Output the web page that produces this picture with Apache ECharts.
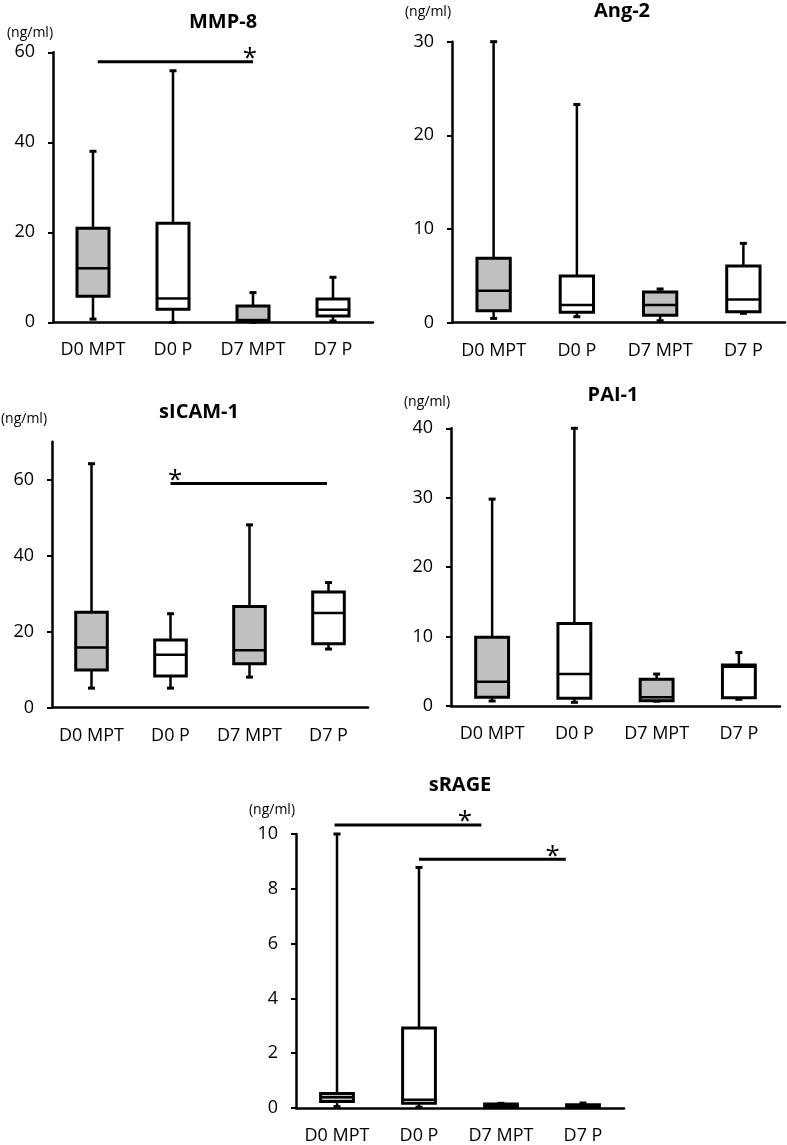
<!DOCTYPE html>
<html>
<head>
<meta charset="utf-8">
<script src="https://cdn.jsdelivr.net/npm/echarts@6/dist/echarts.min.js"></script>
<style>
  html, body { margin: 0; padding: 0; background: #fff; }
  #chart { width: 787px; height: 1145px; }
</style>
</head>
<body>
<div id="chart"></div>
<script>
// ---- Data (each row: [min, Q1, median, Q3, max]) ----
const categories = ['D0 MPT', 'D0 P', 'D7 MPT', 'D7 P'];

const mmp8 = [
  [0.7, 5.8, 12.0, 20.9, 38.0],
  [0.0, 2.9, 5.3, 22.0, 55.9],
  [0.0, 0.3, 0.5, 3.6, 6.6],
  [0.3, 1.4, 2.8, 5.2, 10.0]
];
const ang2 = [
  [0.46, 1.28, 3.42, 6.87, 30.0],
  [0.64, 1.11, 1.89, 4.98, 23.3],
  [0.21, 0.79, 1.89, 3.28, 3.6],
  [1.0, 1.18, 2.49, 6.05, 8.47]
];
const sicam1 = [
  [5.1, 9.9, 15.8, 25.1, 64.2],
  [5.1, 8.3, 13.9, 17.8, 24.7],
  [8.0, 11.5, 15.1, 26.6, 48.1],
  [15.4, 16.8, 24.9, 30.4, 32.9]
];
const pai1 = [
  [0.72, 1.25, 3.5, 9.9, 29.8],
  [0.53, 1.1, 4.6, 11.9, 40.0],
  [0.7, 0.76, 1.25, 3.85, 4.6],
  [0.97, 1.2, 5.66, 5.9, 7.7]
];
const srage = [
  [0.05, 0.24, 0.39, 0.53, 10.0],
  [0.03, 0.17, 0.30, 2.92, 8.78],
  [0.02, 0.03, 0.10, 0.15, 0.17],
  [0.02, 0.03, 0.07, 0.12, 0.18]
];

// Significance bars: [start category, end category, value level, star category]
const mmp8Sig = [[0.06, 2.0, 57.9, 1.96]];
const sicam1Sig = [[1.0, 2.98, 59.0, 1.06]];
const srageSig = [[-0.03, 1.76, 10.33, 1.56], [1.0, 2.79, 9.08, 2.63]];

// Y-axis ticks
const mmp8Ticks = [0, 20, 40, 60];
const ang2Ticks = [0, 10, 20, 30];
const sicam1Ticks = [0, 20, 40, 60];
const pai1Ticks = [0, 10, 20, 30, 40];
const srageTicks = [0, 2, 4, 6, 8, 10];

const unit = '(ng/ml)';

// ---- Layout ----
const FONT = '"Open Sans", "Noto Sans", sans-serif';
const panels = [
  { title: 'MMP-8', data: mmp8, sig: mmp8Sig, ticks: mmp8Ticks, max: 60,
    grid: { left: 53, top: 52.3, width: 320, height: 270 }, titlePos: [223, 22], unitPos: [30, 33] },
  { title: 'Ang-2', data: ang2, sig: [], ticks: ang2Ticks, max: 30,
    grid: { left: 452, top: 41.7, width: 333, height: 281 }, titlePos: [622, 11], unitPos: [428, 12] },
  { title: 'sICAM-1', data: sicam1, sig: sicam1Sig, ticks: sicam1Ticks, max: 70,
    grid: { left: 52, top: 441.7, width: 316, height: 265.8 }, titlePos: [199, 412], unitPos: [24, 419] },
  { title: 'PAI-1', data: pai1, sig: [], ticks: pai1Ticks, max: 40,
    grid: { left: 451, top: 428.3, width: 329, height: 277.7 }, titlePos: [613, 395], unitPos: [427, 402] },
  { title: 'sRAGE', data: srage, sig: srageSig, ticks: srageTicks, max: 10,
    grid: { left: 296, top: 834, width: 328, height: 276.7 }, titlePos: [460, 785], unitPos: [272, 810] }
];

function renderBox(params, api) {
  const ci = api.value(0);
  const vMin = api.value(1), q1 = api.value(2), med = api.value(3), q3 = api.value(4), vMax = api.value(5);
  const w = api.size([1, 0])[0] * 0.4;
  const cap = 3.5;
  const pMin = api.coord([ci, vMin]);
  const pQ1 = api.coord([ci, q1]);
  const pMed = api.coord([ci, med]);
  const pQ3 = api.coord([ci, q3]);
  const pMax = api.coord([ci, vMax]);
  const cx = pMin[0];
  const fill = categories[ci].indexOf('MPT') >= 0 ? '#c0c0c0' : '#ffffff';
  const stroke = { stroke: '#000', lineWidth: 2.5 };
  return {
    type: 'group',
    children: [
      { type: 'line', shape: { x1: cx, y1: pQ3[1], x2: cx, y2: pMax[1] }, style: stroke },
      { type: 'line', shape: { x1: cx - cap, y1: pMax[1], x2: cx + cap, y2: pMax[1] }, style: { stroke: '#000', lineWidth: 3 } },
      { type: 'line', shape: { x1: cx, y1: pQ1[1], x2: cx, y2: pMin[1] }, style: stroke },
      { type: 'line', shape: { x1: cx - cap, y1: pMin[1], x2: cx + cap, y2: pMin[1] }, style: { stroke: '#000', lineWidth: 3 } },
      { type: 'rect', shape: { x: cx - w / 2, y: pQ3[1], width: w, height: pQ1[1] - pQ3[1] },
        style: { fill: fill, stroke: '#000', lineWidth: 3 } },
      { type: 'line', shape: { x1: cx - w / 2, y1: pMed[1], x2: cx + w / 2, y2: pMed[1] }, style: { stroke: '#000', lineWidth: 2.5 } }
    ]
  };
}

function renderSig(params, api) {
  const p1 = api.coord([api.value(0), api.value(2)]);
  const p2 = api.coord([api.value(1), api.value(2)]);
  const ps = api.coord([api.value(3), api.value(2)]);
  return {
    type: 'group',
    children: [
      { type: 'line', shape: { x1: p1[0], y1: p1[1], x2: p2[0], y2: p2[1] }, style: { stroke: '#000', lineWidth: 3 } },
      { type: 'text', x: ps[0], y: ps[1] - 3,
        style: { text: '*', font: '26px ' + FONT, fill: '#000', align: 'center', verticalAlign: 'middle' } }
    ]
  };
}

const grids = [], xAxes = [], yAxes = [], series = [], graphics = [];
panels.forEach((p, i) => {
  grids.push(Object.assign({ containLabel: false }, p.grid));
  xAxes.push({
    type: 'category', gridIndex: i, data: categories, boundaryGap: true,
    axisLine: { show: true, onZero: false, lineStyle: { color: '#000', width: 2.5 } },
    axisTick: { show: false },
    axisLabel: { color: '#000', fontFamily: FONT, fontSize: 18, margin: 19, interval: 0 },
    splitLine: { show: false }
  });
  xAxes.push({
    type: 'value', gridIndex: i, min: -0.5, max: 3.5, show: false,
    axisLine: { onZero: false }, splitLine: { show: false }
  });
  yAxes.push({
    type: 'value', gridIndex: i, min: 0, max: p.max,
    axisLine: { show: true, onZero: false, lineStyle: { color: '#000', width: 2.5 } },
    axisTick: { show: true, inside: false, length: 5, lineStyle: { color: '#000', width: 2 }, customValues: p.ticks },
    axisLabel: { color: '#000', fontFamily: FONT, fontSize: 18, margin: 18, customValues: p.ticks },
    splitLine: { show: false }
  });
  series.push({
    type: 'custom', name: p.title, xAxisIndex: 2 * i + 1, yAxisIndex: i,
    renderItem: renderBox,
    encode: { x: 0, y: [1, 2, 3, 4, 5] },
    data: p.data.map((d, k) => [k].concat(d)),
    clip: false, silent: true
  });
  if (p.sig.length) {
    series.push({
      type: 'custom', name: p.title + ' sig', xAxisIndex: 2 * i + 1, yAxisIndex: i,
      renderItem: renderSig,
      encode: { x: [0, 1, 3], y: 2 },
      data: p.sig,
      clip: false, silent: true
    });
  }
  graphics.push({ type: 'text', x: p.titlePos[0], y: p.titlePos[1],
    style: { text: p.title, font: 'bold 20px ' + FONT, fill: '#000', align: 'center', verticalAlign: 'middle' } });
  graphics.push({ type: 'text', x: p.unitPos[0], y: p.unitPos[1],
    style: { text: unit, font: '14px ' + FONT, fill: '#000', align: 'center', verticalAlign: 'middle' } });
});

const chart = echarts.init(document.getElementById('chart'), null, { renderer: 'canvas' });
chart.setOption({
  animation: false,
  backgroundColor: '#fff',
  grid: grids,
  xAxis: xAxes,
  yAxis: yAxes,
  series: series,
  graphic: graphics
});
</script>
</body>
</html>
